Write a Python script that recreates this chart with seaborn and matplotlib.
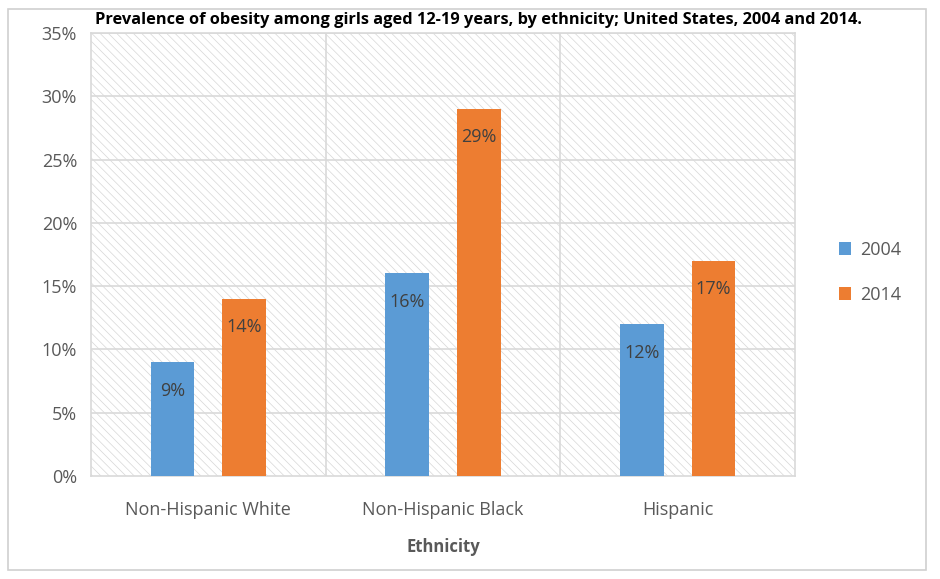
import matplotlib
matplotlib.use("Agg")
import matplotlib.pyplot as plt
import matplotlib.patches as mpatches
import pandas as pd
import seaborn as sns

ethnicities = ["Non-Hispanic White", "Non-Hispanic Black", "Hispanic"]
years = ["2004", "2014"]
prev_2004 = [9, 16, 12]
prev_2014 = [14, 29, 17]
y_ticks = [0, 5, 10, 15, 20, 25, 30, 35]

df = pd.DataFrame({
    "Ethnicity": ethnicities * 2,
    "Year": [years[0]] * 3 + [years[1]] * 3,
    "Prevalence": prev_2004 + prev_2014,
})

sns.set_style("white")
plt.rcParams["font.family"] = ["Open Sans", "DejaVu Sans"]
plt.rcParams["hatch.linewidth"] = 0.5
plt.rcParams["hatch.color"] = "#d6d6d6"

fig = plt.figure(figsize=(9.4, 5.79), dpi=100)
ax = fig.add_axes([0.0968, 0.178, 0.749, 0.765])

# hatched plot-area background
bg = mpatches.Rectangle((0, 0), 1, 1, transform=ax.transAxes, facecolor="white",
                        edgecolor="#d6d6d6", hatch="\\\\\\\\", linewidth=0, zorder=0)
ax.add_patch(bg)

palette = {"2004": "#5b9bd5", "2014": "#ed7d31"}
sns.barplot(data=df, x="Ethnicity", y="Prevalence", hue="Year", hue_order=years,
            order=ethnicities, palette=palette, width=0.61, gap=0.39,
            saturation=1, ax=ax, zorder=3, legend=True, linewidth=0)

ax.set_xlim(-0.5, 2.5)
ax.set_ylim(0, 35)
ax.set_yticks(y_ticks)
ax.set_yticklabels([f"{t}%" for t in y_ticks], fontsize=13, color="#595959")
ax.tick_params(axis="x", labelsize=13, labelcolor="#595959", length=0, pad=18)
ax.tick_params(axis="y", length=0, pad=10)
ax.set_ylabel("")
ax.set_xlabel("Ethnicity", fontsize=12, fontweight="bold", color="#595959", labelpad=14)

# grid: horizontal every 5%, vertical at category boundaries
for t in y_ticks[1:]:
    ax.axhline(t, color="#d9d9d9", linewidth=1.2, zorder=1)
for xb in [0.5, 1.5]:
    ax.axvline(xb, color="#d9d9d9", linewidth=1.2, zorder=1)
for s in ax.spines.values():
    s.set_color("#d9d9d9")
    s.set_linewidth(1.2)

# value labels
for cont in ax.containers:
    labels = [f"{v:.0f}%" for v in cont.datavalues]
    ax.bar_label(cont, labels=labels, label_type="edge", padding=-27,
                 fontsize=13, color="#404040")

# legend
handles, labels = ax.get_legend_handles_labels()
ax.legend_.remove()
fig.legend(handles, labels, loc="center left", bbox_to_anchor=(0.875, 0.53),
           frameon=False, fontsize=13, labelcolor="#595959", handlelength=0.7,
           handleheight=0.7, handletextpad=0.5, labelspacing=1.5)

fig.text(0.101, 0.966, "Prevalence of obesity among girls aged 12-19 years, by ethnicity; United States, 2004 and 2014.",
         fontsize=11.8, fontweight="bold", color="black", va="center", ha="left")

# outer chart border
fig.patches.append(mpatches.Rectangle((0.009, 0.015), 0.976, 0.97, transform=fig.transFigure,
                                      fill=False, edgecolor="#d0d0d0", linewidth=1.2))

fig.savefig("out.png", dpi=100, facecolor="white")
